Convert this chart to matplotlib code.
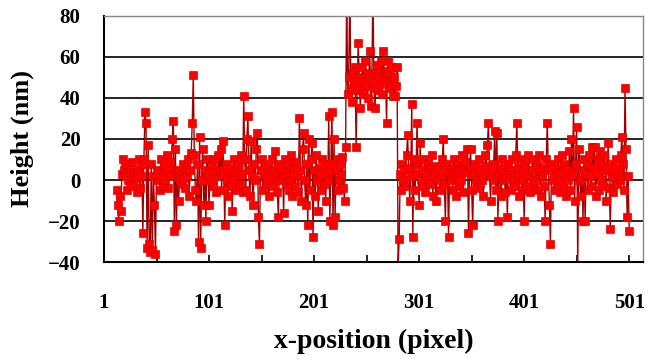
import numpy as np
import matplotlib.pyplot as plt

plt.rcParams['font.family'] = ['Liberation Serif', 'DejaVu Serif']
plt.rcParams['font.weight'] = 'bold'
plt.rcParams['axes.labelweight'] = 'bold'

# first pixel with data, heights (nm)
start = 13
height = [
    -5, -12, -20, -8, -15, 3, 10, 5,
    8, 2, -5, 0, 6, -3, 4, 9, -2, 3,
    1, -6, 5, 10, -4, 2, 8,
    -26, 10, 33, 28, -33, 17, -31, -35, 8, -34, 2, -12, -36, 5, 0,
    3, -5, 10, 2, -3, 7, 0, 4, 12, -4, 6, 9, 2, 20,
    29, -25, 15, -22, 5, -10, 0, 3, -2, 8, 1, -4, 6, 2,
    10, -8, 5, 13, 28, 51, 12, -5, -10, 8, -30, 21, -33, 0, 15, -12, 5, -20, 10, 2,
    -12, 5, 0, 8, -3, 10, 4, -6, 2, 12, 5, 15, -5, 19, 3, -22, 8, 0, -8, 5,
    -3, 6, -15, 2, 10, 0, -5, 4, 8, -2, 12, 3, -6, 41, 10,
    -5, 20, 31, 5, -8, 19, 2, -12, 8, 0, 15, 23, -18, -31, 5,
    10, -5, 3, 8, -2, 0, 6, -8, 4, 1, 10, -3, 5, 14, 2, -6, -18, 8, 0, 3,
    5, -16, 10, -2, 4, 8, -5, 0, 12, -8, 3, 6, -3, 9, 2, -6,
    30, 5, -10, 15, 23, 0, -12, 8, -22, 20, -5, 10, 18, -28,
    5, -8, 12, 0, -15, 6, 3, -5, 10, -2, 8, -10, 4, 0,
    31, -20, 8, 33, -22, 20, -18, 5, 10, -5, 0, 8, 3, 11, -4, -10, 16,
    95, 42, 50, 95, 45, 38, 52, 48, 55, 16, 44, 67, 50, 35,
    48, 55, 42, 58, 46, 52, 40, 50, 63, 36, 48, 95, 45, 35, 52,
    56, 44, 50, 47, 58, 42, 63, 49, 53, 28, 58, 45, 52, 48, 55, 41, 50, 41, 46, 55,
    -42, -29, 3, -5, 8, 0, 5, -3, 12, 22, 6, -10, 2, 37, -28, 10, -5, 3, 28, 8, -12, 18, 0, 5, -3,
    10, -6, 3, 8, 0, -2, 6, 12, -8, 4, 2, -10, 7, 0, 5, -5, 3, 10, 20, -2, -20, 8, 5, -28, 4,
    0, 6, -5, 10, 3, -8, 2, 8, -3, 5, 0, 12, -6, 4, 9, 4, 15, -26, 6, 15,
    -5, -22, 3, 8, 0, -4, 6, 10, -2, 5, 0, -8, 3, 12, 7, 17, 28, 2, -10, 5,
    0, 8, 24, -5, 23, -20, 3, 6, -8, 10, 0, 4, -6, 2, -18, 8, 3, -5, 10, 0,
    5, -3, 12, 28, 6, -8, 2, 10, -5, 0, -20, 8, 4, -3, 12, 2, -6, 5, 10, -2,
    3, 0, 8, -5, 12, 4, -8, 2, 6, -3, -20, 10, 28, 5, -12, -31, 8, 0, 3, -5,
    6, -2, 10, 0, -6, 4, 12, -3, 8, 2, -8, 5, 0, 14, -5, 20, 3, 35, -10, 8,
    26, -42, 15, 0, -8, 5, -20, 10, -20, 3, 8, -5, 12, 2, -3, 16, 6, 16, -8, 3,
    10, -5, 14, 0, 8, -3, 12, 5, -10, 6, 18, -4, -24, 8, 2, -6, 5, 10, -2, 3,
    6, 0, 12, 21, 8, -5, 45, 15, -18, 2, -25,
]
x = np.arange(start, start + len(height))

xticks = [1, 101, 201, 301, 401, 501]
yticks = [-40, -20, 0, 20, 40, 60, 80]

fig, ax = plt.subplots(figsize=(6.52, 3.6), dpi=100)
fig.subplots_adjust(left=0.1595, right=0.986, bottom=0.2722, top=0.9556)

ax.plot(x, height, color='#A00000', lw=1.0, marker='s', ms=5.5,
        mfc='#FF0000', mec='#E00000', mew=0.5)

ax.set_xlim(1, 514)
ax.set_ylim(-40, 80)
ax.set_yticks(yticks)
ax.set_xticks(xticks)
ax.set_xticks(range(51, 502, 100), minor=True)

ax.yaxis.grid(True, color='black', lw=1.2)
ax.set_axisbelow(True)
grid = ax.get_ygridlines()
grid[0].set_visible(False)
grid[-1].set_visible(False)

ax.tick_params(axis='x', which='both', direction='in', length=5, width=1.2,
               pad=22, labelsize=15)
ax.tick_params(axis='y', length=0, pad=17, labelsize=15)

for side in ['left', 'bottom']:
    ax.spines[side].set_color('black')
    ax.spines[side].set_linewidth(1.5)
for side in ['top', 'right']:
    ax.spines[side].set_color('#888888')
    ax.spines[side].set_linewidth(1.0)

ax.set_xlabel("x-position (pixel)", fontsize=20, labelpad=12)
ax.set_ylabel("Height (nm)", fontsize=19, labelpad=10)

plt.savefig("out.png")
